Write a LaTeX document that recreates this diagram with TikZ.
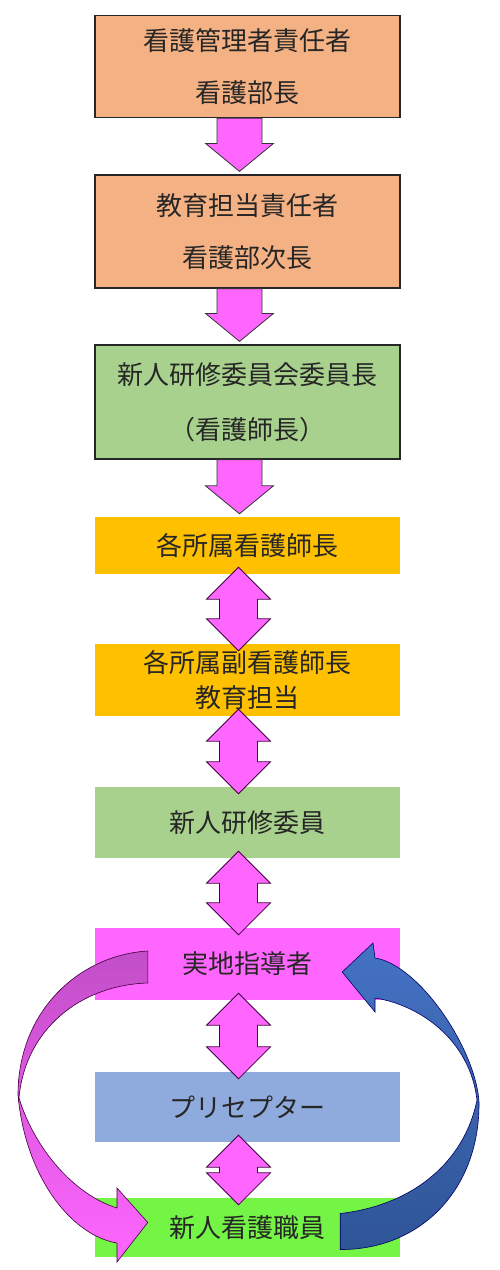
\documentclass[tikz,border=0pt]{standalone}
\usepackage{fontspec}
\newfontfamily\jpfont{Noto Sans CJK JP}
\usetikzlibrary{calc}

\definecolor{kanrifill}{HTML}{F4B183}
\definecolor{iinfill}{HTML}{A9D18E}
\definecolor{shozokufill}{HTML}{FFC000}
\definecolor{jicchifill}{HTML}{FF66FF}
\definecolor{preceptorfill}{HTML}{8FAADC}
\definecolor{shinjinfill}{HTML}{74F545}
\definecolor{loopmagenta}{HTML}{C24EC8}
\definecolor{loopblue}{HTML}{4472C4}
\definecolor{loopbluedark}{HTML}{2F5597}

% block arrow down, from box #1 to box #2
\newcommand{\downblockarrow}[2]{%
\draw[downblock] let \p1=([xshift=-8pt]#1.south), \p2=([xshift=-8pt]#2.north) in
(\x1-22.5pt,\y1) -- (\x1-22.5pt,\y2+31pt) -- (\x1-34pt,\y2+31pt) -- (\x1,\y2+3pt)
-- (\x1+34pt,\y2+31pt) -- (\x1+22.5pt,\y2+31pt) -- (\x1+22.5pt,\y1) -- cycle ;}

% block arrow both ways, between box #1 and box #2
\newcommand{\bothblockarrow}[2]{%
\draw[bothblock] let \p1=([xshift=-9pt]#1.south), \p2=([xshift=-9pt]#2.north) in
(\x1,\y1+7pt) -- (\x1+32pt,\y1-25pt) -- (\x1+19pt,\y1-25pt) -- (\x1+19pt,\y2+25pt)
-- (\x1+32pt,\y2+25pt) -- (\x1,\y2-7pt) -- (\x1-32pt,\y2+25pt) -- (\x1-19pt,\y2+25pt)
-- (\x1-19pt,\y1-25pt) -- (\x1-32pt,\y1-25pt) -- cycle ;}

\begin{document}
\begin{tikzpicture}[x=1pt, y=-1pt, font=\jpfont\fontsize{26}{52}\selectfont,
stagebox/.style={minimum width=305pt, inner sep=0pt, align=center, text=black!85},
framedbox/.style={stagebox, draw=black!85, line width=1.2pt},
downblock/.style={fill=jicchifill, draw=black!80, line width=0.8pt},
bothblock/.style={fill=jicchifill, draw=violet!50!black, line width=0.8pt}]

\useasboundingbox (0,0) rectangle (500,1270);

% chain of boxes
\node[framedbox, fill=kanrifill, minimum height=102pt] (kanri) at (247.5,66.5) {看護管理者責任者\\看護部長};
\node[framedbox, fill=kanrifill, minimum height=113pt] (kyoiku) at (247.5,231.5) {教育担当責任者\\看護部次長};
\node[framedbox, fill=iinfill, minimum height=114pt,
font=\jpfont\fontsize{26}{55}\selectfont] (iincho) at (247.5,402) {新人研修委員会委員長\\（看護師長）};
\node[stagebox, fill=shozokufill, minimum height=57pt] (shicho) at (247.5,545.5) {各所属看護師長};
\node[stagebox, fill=shozokufill, minimum height=72pt,
font=\jpfont\fontsize{26}{35}\selectfont] (fukushicho) at (247.5,680) {各所属副看護師長\\教育担当};
\node[stagebox, fill=iinfill, minimum height=71pt] (iin) at (247.5,822.5) {新人研修委員};
\node[stagebox, fill=jicchifill, minimum height=72pt] (jicchi) at (247.5,964) {実地指導者};
\node[stagebox, fill=preceptorfill, minimum height=70pt] (preceptor) at (247.5,1107) {プリセプター};
\node[stagebox, fill=shinjinfill, minimum height=59pt] (shinjin) at (247.5,1227.5) {新人看護職員};

% arrows between boxes
\downblockarrow{kanri}{kyoiku}
\downblockarrow{kyoiku}{iincho}
\downblockarrow{iincho}{shicho}
\bothblockarrow{shicho}{fukushicho}
\bothblockarrow{fukushicho}{iin}
\bothblockarrow{iin}{jicchi}
\bothblockarrow{jicchi}{preceptor}
\bothblockarrow{preceptor}{shinjin}

% loop: jicchi -> shinjin
\draw[draw=violet!50!black, line width=0.6pt, top color=loopmagenta, bottom color=jicchifill]
([shift={(53,-13)}]jicchi.west) .. controls (80,955) and (18,1010) .. (18,1095)
.. controls (25,1175) and (70,1235) .. (117,1243) -- (117,1262)
-- ([shift={(53,-5)}]shinjin.west) -- (117,1188) -- (117,1208)
.. controls (75,1195) and (35,1150) .. (19,1098)
.. controls (25,1030) and (80,985) .. ([shift={(53,19)}]jicchi.west) -- cycle ;

% loop: shinjin -> jicchi
\draw[draw=blue!40!black, line width=0.6pt, top color=loopblue, bottom color=loopbluedark]
([shift={(-60,22)}]shinjin.east) .. controls (420,1250) and (480,1190) .. (479,1102)
.. controls (476,1050) and (420,965) .. (375,958) -- (373,943)
-- ([shift={(-58,8)}]jicchi.east) -- (375,1012) -- (375,998)
.. controls (420,1005) and (470,1040) .. (477,1100)
.. controls (465,1160) and (415,1205) .. ([shift={(-60,-14)}]shinjin.east) -- cycle ;

\end{tikzpicture}
\end{document}
